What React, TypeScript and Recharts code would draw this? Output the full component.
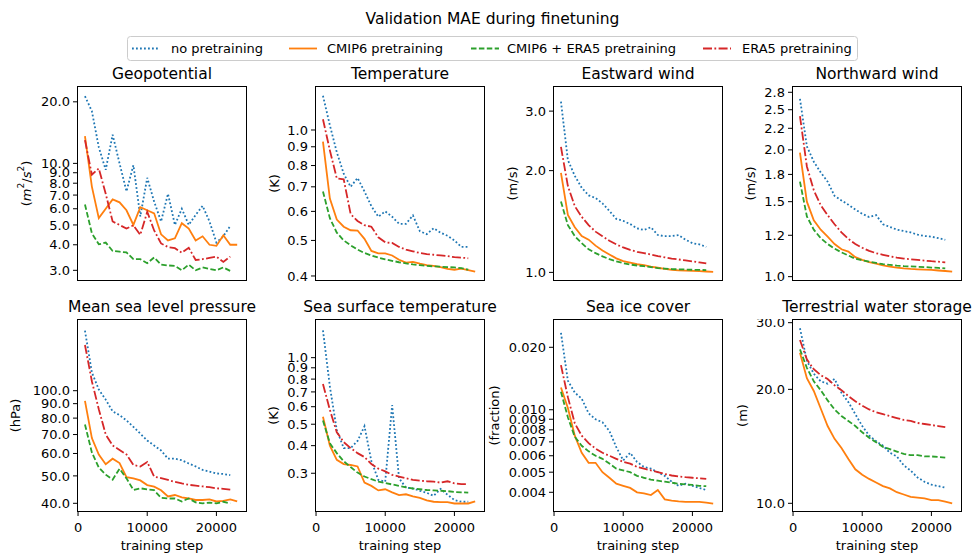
import React from "react";
import { LineChart, Line, XAxis, YAxis } from "recharts";

const FONT = "'DejaVu Sans', sans-serif";

// training steps (x)
const steps = [1000, 2000, 3000, 4000, 5000, 6000, 7000, 8000, 9000, 10000, 11000, 12000,
  13000, 14000, 15000, 16000, 17000, 18000, 19000, 20000, 21000, 22000, 23000];
const stepTicks = [0, 10000, 20000];

// Geopotential
const geoNone = [21.3, 18.0, 12.0, 9.3, 13.8, 10.0, 7.3, 9.8, 5.5, 8.5, 6.5, 5.2, 7.1, 5.0, 6.0, 5.0, 5.6, 6.2, 5.2, 4.1, 4.4, 4.95];
const geoCmip = [13.6, 7.7, 5.4, 6.0, 6.67, 6.45, 5.9, 5.0, 6.1, 5.9, 5.7, 4.5, 4.2, 4.3, 5.1, 4.8, 4.2, 4.4, 4.0, 3.95, 4.45, 4.0, 4.0];
const geoBoth = [6.3, 4.55, 4.02, 4.1, 3.73, 3.7, 3.67, 3.4, 3.4, 3.25, 3.47, 3.2, 3.17, 3.15, 3.0, 3.2, 3.0, 3.1, 3.05, 3.0, 3.1, 2.98];
const geoEra = [13.0, 8.8, 9.45, 7.1, 5.2, 5.0, 4.8, 4.98, 4.47, 5.8, 4.7, 4.06, 3.9, 3.85, 3.66, 3.87, 3.37, 3.4, 3.45, 3.5, 3.3, 3.5];
const geoTicks = [3, 4, 5, 6, 7, 8, 9, 10, 20];
const geoTickLabels = ["3.0", "4.0", "5.0", "6.0", "7.0", "8.0", "9.0", "10.0", "20.0"];

// Temperature
const tempNone = [1.24, 1.03, 0.87, 0.76, 0.70, 0.74, 0.68, 0.62, 0.58, 0.60, 0.58, 0.555, 0.555, 0.585, 0.53, 0.52, 0.54, 0.525, 0.515, 0.50, 0.48, 0.48];
const tempCmip = [0.93, 0.65, 0.57, 0.545, 0.533, 0.532, 0.505, 0.468, 0.461, 0.461, 0.455, 0.443, 0.435, 0.437, 0.432, 0.428, 0.426, 0.423, 0.418, 0.416, 0.419, 0.415, 0.411];
const tempBoth = [0.68, 0.575, 0.525, 0.50, 0.485, 0.472, 0.462, 0.455, 0.449, 0.444, 0.44, 0.436, 0.433, 0.43, 0.428, 0.426, 0.425, 0.424, 0.423, 0.422, 0.42, 0.416];
const tempEra = [1.07, 0.88, 0.738, 0.734, 0.59, 0.565, 0.55, 0.545, 0.51, 0.494, 0.492, 0.48, 0.472, 0.467, 0.462, 0.459, 0.457, 0.455, 0.453, 0.45, 0.449, 0.447];
const tempTicks = [0.4, 0.5, 0.6, 0.7, 0.8, 0.9, 1.0];
const tempTickLabels = ["0.4", "0.5", "0.6", "0.7", "0.8", "0.9", "1.0"];

// Eastward wind
const eastNone = [3.2, 2.15, 1.93, 1.78, 1.69, 1.66, 1.60, 1.52, 1.44, 1.42, 1.39, 1.35, 1.335, 1.36, 1.29, 1.28, 1.28, 1.29, 1.25, 1.22, 1.21, 1.19];
const eastCmip = [1.97, 1.48, 1.36, 1.28, 1.25, 1.20, 1.16, 1.13, 1.10, 1.08, 1.068, 1.057, 1.05, 1.04, 1.032, 1.024, 1.018, 1.014, 1.012, 1.01, 1.008, 1.006, 1.004];
const eastBoth = [1.62, 1.38, 1.28, 1.22, 1.17, 1.14, 1.115, 1.095, 1.078, 1.065, 1.055, 1.048, 1.043, 1.036, 1.03, 1.026, 1.023, 1.021, 1.02, 1.018, 1.017, 1.016];
const eastEra = [2.35, 1.80, 1.57, 1.46, 1.38, 1.32, 1.28, 1.24, 1.21, 1.185, 1.165, 1.15, 1.14, 1.13, 1.118, 1.108, 1.098, 1.092, 1.085, 1.078, 1.07, 1.063];
const eastTicks = [1, 2, 3];
const eastTickLabels = ["1.0", "2.0", "3.0"];

// Northward wind
const northNone = [2.7, 2.07, 1.90, 1.79, 1.70, 1.57, 1.53, 1.495, 1.455, 1.42, 1.395, 1.41, 1.34, 1.32, 1.30, 1.29, 1.28, 1.265, 1.255, 1.25, 1.24, 1.228];
const northCmip = [2.0, 1.52, 1.37, 1.30, 1.25, 1.20, 1.165, 1.15, 1.115, 1.098, 1.085, 1.075, 1.065, 1.058, 1.052, 1.047, 1.044, 1.042, 1.04, 1.038, 1.035, 1.032, 1.028];
const northBoth = [1.70, 1.40, 1.30, 1.24, 1.20, 1.17, 1.145, 1.125, 1.105, 1.095, 1.087, 1.08, 1.072, 1.068, 1.064, 1.061, 1.059, 1.057, 1.055, 1.052, 1.05, 1.047];
const northEra = [2.45, 1.85, 1.62, 1.49, 1.41, 1.34, 1.28, 1.235, 1.20, 1.175, 1.155, 1.14, 1.13, 1.12, 1.112, 1.106, 1.102, 1.098, 1.094, 1.09, 1.087, 1.083];
const northTicks = [1.0, 1.26, 1.52, 1.77, 2.03, 2.29, 2.54, 2.8];
const northTickLabels = ["1.0", "1.2", "1.5", "1.8", "2.0", "2.2", "2.5", "2.8"];

// Mean sea level pressure
const mslpNone = [163, 116, 101, 93, 84.5, 82, 78.5, 74.5, 70.5, 66.7, 64, 61.5, 57.5, 57.5, 56.8, 55.3, 54, 52.5, 51.8, 51, 50.8, 50.3];
const mslpCmip = [92, 68, 59.5, 55, 57.5, 55.5, 49.5, 49, 48.2, 46.4, 45.8, 44.5, 42.3, 42.8, 42, 41.6, 41.1, 41.1, 41.3, 40.6, 40.8, 41.3, 40.6];
const mslpBoth = [76, 60.5, 53.5, 50.5, 48.5, 53, 49, 44.6, 45.2, 44.8, 44.5, 41.8, 41.6, 41.6, 40.6, 41.6, 40.3, 40.0, 40.2, 40.0, 40.5, 40.0];
const mslpEra = [145, 108, 86, 70, 64, 61.7, 59.5, 54.6, 54, 56, 49.7, 49.1, 48.4, 47.6, 47.0, 46.5, 46.2, 45.9, 45.6, 45.2, 45.0, 44.7];
const mslpTicks = [40, 50, 60, 70, 80, 90, 100];
const mslpTickLabels = ["40.0", "50.0", "60.0", "70.0", "80.0", "90.0", "100.0"];

// Sea surface temperature
const sstNone = [1.33, 0.74, 0.47, 0.39, 0.39, 0.42, 0.49, 0.34, 0.28, 0.275, 0.61, 0.285, 0.258, 0.256, 0.25, 0.245, 0.237, 0.255, 0.24, 0.227, 0.223, 0.223];
const sstCmip = [0.54, 0.40, 0.345, 0.33, 0.327, 0.322, 0.272, 0.263, 0.251, 0.254, 0.246, 0.239, 0.241, 0.236, 0.232, 0.226, 0.223, 0.222, 0.222, 0.219, 0.219, 0.219, 0.224];
const sstBoth = [0.52, 0.41, 0.37, 0.34, 0.32, 0.302, 0.29, 0.282, 0.275, 0.271, 0.267, 0.263, 0.259, 0.256, 0.254, 0.252, 0.251, 0.25, 0.249, 0.247, 0.246, 0.245];
const sstEra = [0.76, 0.58, 0.46, 0.415, 0.39, 0.37, 0.355, 0.33, 0.315, 0.306, 0.295, 0.29, 0.285, 0.28, 0.278, 0.276, 0.275, 0.272, 0.276, 0.27, 0.268, 0.268];
const sstTicks = [0.3, 0.4, 0.5, 0.6, 0.7, 0.8, 0.9, 1.0];
const sstTickLabels = ["0.3", "0.4", "0.5", "0.6", "0.7", "0.8", "0.9", "1.0"];

// Sea ice cover
const iceNone = [0.0235, 0.0138, 0.0121, 0.0113, 0.0096, 0.009, 0.0087, 0.0079, 0.0066, 0.0057, 0.0062, 0.0056, 0.0053, 0.0052, 0.005, 0.0048, 0.0045, 0.0043, 0.0044, 0.0043, 0.0042, 0.0041];
const iceCmip = [0.0128, 0.0102, 0.0075, 0.0062, 0.00555, 0.00555, 0.005, 0.0047, 0.0044, 0.0043, 0.0042, 0.004, 0.00395, 0.00388, 0.0041, 0.0037, 0.00365, 0.00362, 0.0036, 0.0036, 0.0036, 0.00357, 0.00353];
const iceBoth = [0.0122, 0.0092, 0.0074, 0.0067, 0.0063, 0.006, 0.0058, 0.0055, 0.0052, 0.0051, 0.005, 0.0048, 0.0047, 0.0046, 0.00455, 0.0045, 0.00445, 0.0044, 0.00437, 0.00434, 0.0043, 0.00428];
const iceEra = [0.0164, 0.0115, 0.0086, 0.0075, 0.0069, 0.0065, 0.0062, 0.006, 0.0058, 0.0056, 0.0055, 0.0053, 0.0052, 0.0051, 0.005, 0.0049, 0.00482, 0.00477, 0.00473, 0.0047, 0.00467, 0.00464];
const iceTicks = [0.004, 0.005, 0.006, 0.007, 0.008, 0.009, 0.01, 0.02];
const iceTickLabels = ["0.004", "0.005", "0.006", "0.007", "0.008", "0.009", "0.010", "0.020"];

// Terrestrial water storage
const twsNone = [29.0, 23.8, 22.0, 21.0, 20.7, 21.3, 19.6, 18.5, 17.2, 16.0, 15.1, 14.6, 14.2, 13.6, 13.3, 12.6, 12.2, 11.7, 11.4, 11.2, 11.1, 11.0];
const twsCmip = [25.0, 21.4, 19.8, 17.8, 16.0, 14.8, 14.0, 13.1, 12.3, 11.9, 11.6, 11.35, 11.1, 10.95, 10.7, 10.55, 10.4, 10.35, 10.3, 10.2, 10.2, 10.1, 10.0];
const twsBoth = [25.5, 22.8, 21.0, 19.9, 18.7, 17.7, 17.0, 16.5, 16.0, 15.4, 14.9, 14.5, 14.1, 13.9, 13.7, 13.5, 13.4, 13.4, 13.3, 13.3, 13.25, 13.2];
const twsEra = [27.0, 24.0, 22.6, 21.8, 21.3, 20.5, 19.9, 19.2, 18.6, 18.1, 17.7, 17.4, 17.2, 17.0, 16.8, 16.6, 16.5, 16.3, 16.2, 16.1, 16.0, 15.9];
const twsTicks = [10, 20, 30];
const twsTickLabels = ["10.0", "20.0", "30.0"];

const SERIES = [
  { key: "none", name: "no pretraining", color: "#1f77b4", dash: "1.8 2.2" },
  { key: "cmip", name: "CMIP6 pretraining", color: "#ff7f0e", dash: undefined },
  { key: "both", name: "CMIP6 + ERA5 pretraining", color: "#2ca02c", dash: "5.5 2.4" },
  { key: "era", name: "ERA5 pretraining", color: "#d62728", dash: "9 2.4 1.8 2.4" },
];

const panels = [
  { title: "Geopotential", unit: "(m^2/s^2)", none: geoNone, cmip: geoCmip, both: geoBoth, era: geoEra, ticks: geoTicks, tickLabels: geoTickLabels, domain: [2.66, 23.9] },
  { title: "Temperature", unit: "(K)", none: tempNone, cmip: tempCmip, both: tempBoth, era: tempEra, ticks: tempTicks, tickLabels: tempTickLabels, domain: [0.3876, 1.318] },
  { title: "Eastward wind", unit: "(m/s)", none: eastNone, cmip: eastCmip, both: eastBoth, era: eastEra, ticks: eastTicks, tickLabels: eastTickLabels, domain: [0.943, 3.56] },
  { title: "Northward wind", unit: "(m/s)", none: northNone, cmip: northCmip, both: northBoth, era: northEra, ticks: northTicks, tickLabels: northTickLabels, domain: [0.976, 2.9] },
  { title: "Mean sea level pressure", unit: "(hPa)", none: mslpNone, cmip: mslpCmip, both: mslpBoth, era: mslpEra, ticks: mslpTicks, tickLabels: mslpTickLabels, domain: [37.27, 179.2] },
  { title: "Sea surface temperature", unit: "(K)", none: sstNone, cmip: sstCmip, both: sstBoth, era: sstEra, ticks: sstTicks, tickLabels: sstTickLabels, domain: [0.2004, 1.496] },
  { title: "Sea ice cover", unit: "(fraction)", none: iceNone, cmip: iceCmip, both: iceBoth, era: iceEra, ticks: iceTicks, tickLabels: iceTickLabels, domain: [0.003214, 0.02738] },
  { title: "Terrestrial water storage", unit: "(m)", none: twsNone, cmip: twsCmip, both: twsBoth, era: twsEra, ticks: twsTicks, tickLabels: twsTickLabels, domain: [9.485, 30.68] },
];

// layout
const YW = 75;
const PLOT_W = 170;
const PLOT_LEFT = [77, 315, 553, 792];
const ROW_TOP = [86, 319];
const ROW_H = [195, 193];
const X_AXIS_H = [6, 42];
const X_DOMAIN = [-150, 24420];
const YLABEL_DX = [-51.5, -41, -41, -41.5, -61.5, -41.5, -59, -50];
const LEGEND_HANDLE_X = [132, 289, 471, 703];
const LEGEND_TEXT_X = [171, 327, 507, 742];

const tickStyle = { fill: "#000", fontSize: 13, fontFamily: FONT };

function unitText(unit: string) {
  if (unit !== "(m^2/s^2)") return unit;
  return (
    <>
      <tspan>(</tspan>
      <tspan fontStyle="italic">m</tspan>
      <tspan dy={-5} fontSize={9}>2</tspan>
      <tspan dy={5}>/</tspan>
      <tspan fontStyle="italic">s</tspan>
      <tspan dy={-5} fontSize={9}>2</tspan>
      <tspan dy={5}>)</tspan>
    </>
  );
}

function Panel({ p, idx }: { p: any; idx: number }) {
  const row = idx < 4 ? 0 : 1;
  const col = idx % 4;
  const left = PLOT_LEFT[col];
  const top = ROW_TOP[row];
  const h = ROW_H[row];
  const xh = X_AXIS_H[row];
  const W = YW + PLOT_W + 2;
  const H = h + xh;
  const rows = steps.map((step, i) => ({
    step,
    none: p.none[i],
    cmip: p.cmip[i],
    both: p.both[i],
    era: p.era[i],
  }));
  const labelX = YW + YLABEL_DX[idx];
  const yLabel = () => (
    <text
      x={labelX}
      y={h / 2}
      transform={`rotate(-90, ${labelX}, ${h / 2})`}
      textAnchor="middle"
      dominantBaseline="central"
      fontSize={13}
      fontFamily={FONT}
      fill="#000"
    >
      {unitText(p.unit)}
    </text>
  );
  const xLabel = () => (
    <text x={YW + PLOT_W / 2} y={h + 37.5} textAnchor="middle" fontSize={13} fontFamily={FONT} fill="#000">
      training step
    </text>
  );
  return (
    <>
      <div style={{ position: "absolute", left: left - YW, top, width: W, height: H }}>
        <LineChart width={W} height={H} data={rows} margin={{ top: 0, right: 2, bottom: 0, left: 0 }}>
          <XAxis
            dataKey="step"
            type="number"
            domain={X_DOMAIN}
            allowDataOverflow
            ticks={stepTicks}
            interval={0}
            height={xh}
            axisLine={false}
            stroke="#000"
            tickSize={4}
            tickMargin={6.5}
            tick={row === 1 ? tickStyle : false}
            label={row === 1 ? xLabel : undefined}
          />
          <YAxis
            type="number"
            scale="log"
            domain={p.domain}
            allowDataOverflow
            ticks={p.ticks}
            interval={0}
            width={YW}
            axisLine={false}
            stroke="#000"
            tickSize={4}
            tickMargin={3}
            tick={tickStyle}
            tickFormatter={(v: number) => p.tickLabels[p.ticks.indexOf(v)] ?? String(v)}
            label={yLabel}
          />
          {SERIES.map((s) => (
            <Line
              key={s.key}
              dataKey={s.key}
              name={s.name}
              type="linear"
              stroke={s.color}
              strokeWidth={1.8}
              strokeDasharray={s.dash}
              dot={false}
              activeDot={false}
              isAnimationActive={false}
            />
          ))}
        </LineChart>
      </div>
      <div
        style={{
          position: "absolute",
          left,
          top,
          width: PLOT_W,
          height: h,
          border: "1px solid #000",
          boxSizing: "border-box",
          pointerEvents: "none",
        }}
      />
    </>
  );
}

export default function App() {
  return (
    <div style={{ position: "absolute", left: 0, top: 0, width: 972, height: 554, background: "#fff", fontFamily: FONT, overflow: "hidden" }}>
      {panels.map((p, i) => (
        <Panel key={p.title} p={p} idx={i} />
      ))}
      <svg width={972} height={554} style={{ position: "absolute", left: 0, top: 0, pointerEvents: "none" }}>
        <text x={492.5} y={23.5} textAnchor="middle" fontSize={15.5} fontFamily={FONT} fill="#000">
          Validation MAE during finetuning
        </text>
        <rect x={127.5} y={36.5} width={730} height={24} rx={3} fill="#fff" stroke="#cccccc" />
        {SERIES.map((s, i) => (
          <g key={s.key}>
            <line
              x1={LEGEND_HANDLE_X[i]}
              x2={LEGEND_HANDLE_X[i] + 28}
              y1={48.5}
              y2={48.5}
              stroke={s.color}
              strokeWidth={1.8}
              strokeDasharray={s.dash}
            />
            <text x={LEGEND_TEXT_X[i]} y={53} fontSize={13} fontFamily={FONT} fill="#000">
              {s.name}
            </text>
          </g>
        ))}
        {panels.map((p, i) => {
          const row = i < 4 ? 0 : 1;
          const col = i % 4;
          return (
            <text
              key={p.title}
              x={PLOT_LEFT[col] + PLOT_W / 2}
              y={ROW_TOP[row] - 7}
              textAnchor="middle"
              fontSize={15.5}
              fontFamily={FONT}
              fill="#000"
            >
              {p.title}
            </text>
          );
        })}
      </svg>
    </div>
  );
}
